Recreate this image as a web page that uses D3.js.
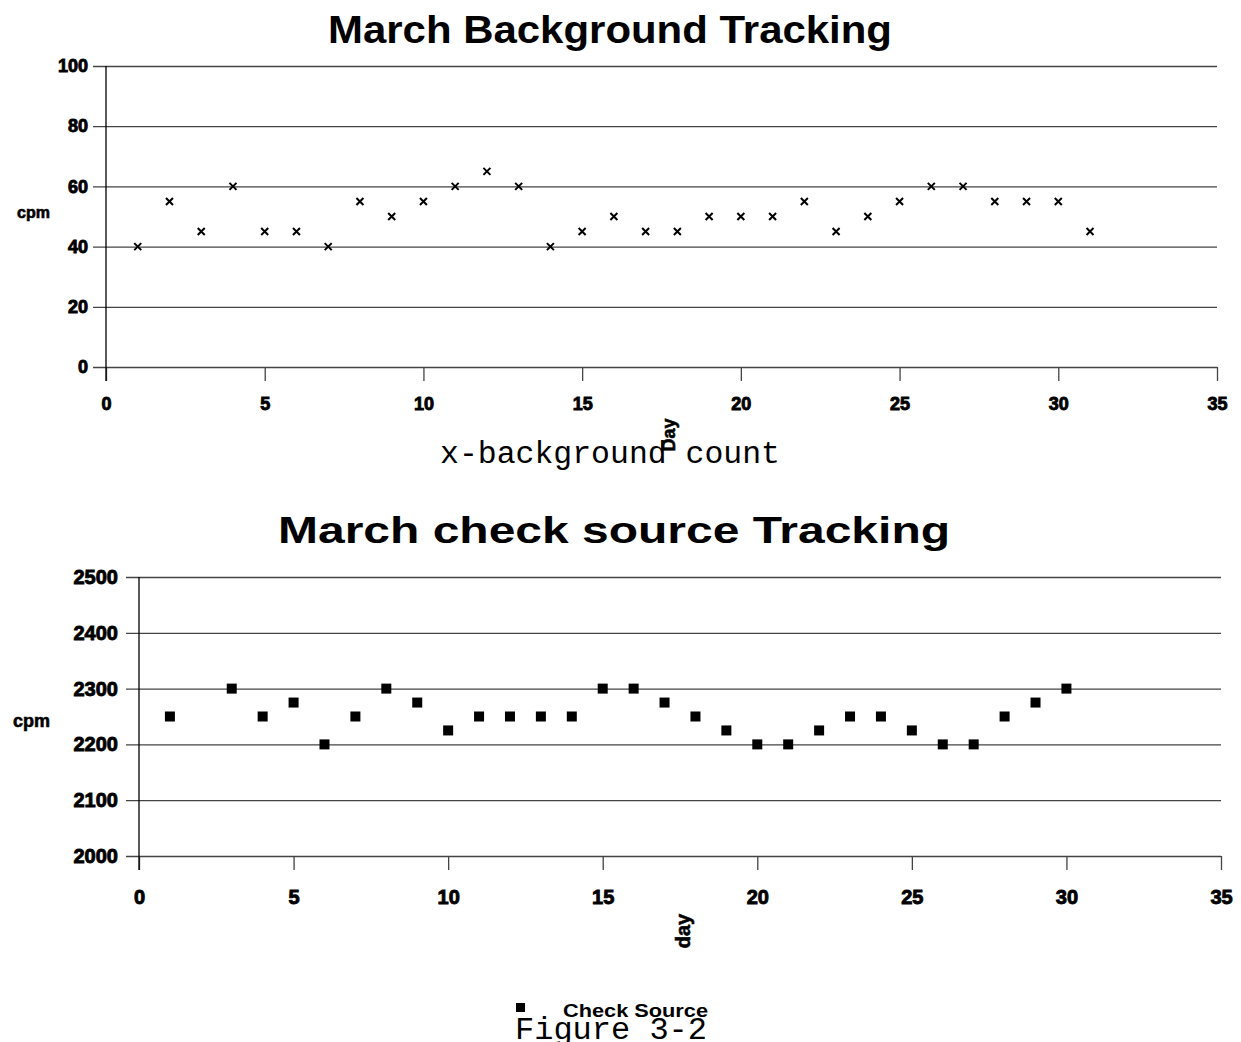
<!DOCTYPE html>
<html>
<head>
<meta charset="utf-8">
<script src="https://cdn.jsdelivr.net/npm/d3@7"></script>
<style>
body { margin: 0; background: #fff; }
text { font-family: "Liberation Sans", Arial, sans-serif; }
.mono { font-family: "Liberation Mono", "Courier New", monospace; }
</style>
</head>
<body>
<script>
// background count, cpm per day
var bgDays   = [1,2,3,4,5,6,7,8,9,10,11,12,13,14,15,16,17,18,19,20,21,22,23,24,25,26,27,28,29,30,31];
var bgCounts = [40,55,45,60,45,45,40,55,50,55,60,65,60,40,45,50,45,45,50,50,50,55,45,50,55,60,60,55,55,55,45];

// check source, cpm per day (no reading on day 2)
var csDays   = [1,3,4,5,6,7,8,9,10,11,12,13,14,15,16,17,18,19,20,21,22,23,24,25,26,27,28,29,30];
var csCounts = [2250,2300,2250,2275,2200,2250,2300,2275,2225,2250,2250,2250,2250,2300,2300,2275,2250,2225,2200,2200,2225,2250,2250,2225,2200,2200,2250,2275,2300];

var xTicks   = [0,5,10,15,20,25,30,35];
var bgYTicks = [0,20,40,60,80,100];
var csYTicks = [2000,2100,2200,2300,2400,2500];

var svg = d3.select("body").append("svg")
    .attr("width", 1241)
    .attr("height", 1042);

function drawPanel(o){
    var x = d3.scaleLinear().domain([0,35]).range([o.left, o.right]);
    var y = d3.scaleLinear().domain(o.yDomain).range([o.bottom, o.top]);

    // gridlines + y labels
    var ya = svg.append("g")
        .attr("transform", "translate(" + (o.left - 13) + ",0)")
        .call(d3.axisLeft(y).tickValues(o.yTicks).tickFormat(d3.format("d"))
            .tickSize(-(o.right - o.left + 13)).tickPadding(o.yPad));
    ya.select(".domain").remove();
    ya.selectAll("line").attr("stroke", "#444").attr("stroke-width", 1.3);
    ya.selectAll("text")
        .attr("font-size", o.yFont).attr("font-weight", "bold")
        .attr("fill", "#000").attr("stroke", "#000").attr("stroke-width", 0.9);

    // x ticks + labels
    var xa = svg.append("g")
        .attr("transform", "translate(0," + o.bottom + ")")
        .call(d3.axisBottom(x).tickValues(xTicks).tickSize(14).tickPadding(o.xPad));
    xa.select(".domain").remove();
    xa.selectAll("line").attr("stroke", "#444").attr("stroke-width", 1.3);
    xa.selectAll("text")
        .attr("font-size", o.xFont).attr("font-weight", "bold")
        .attr("fill", "#000").attr("stroke", "#000").attr("stroke-width", 0.9);

    // y axis line
    svg.append("line")
        .attr("x1", x(0)).attr("x2", x(0))
        .attr("y1", o.top).attr("y2", o.bottom + 14)
        .attr("stroke", "#000").attr("stroke-width", 1.3);

    // title
    svg.append("text")
        .attr("x", o.titleX).attr("y", o.titleY)
        .attr("text-anchor", "middle")
        .attr("font-size", o.titleFont).attr("font-weight", "bold")
        .attr("textLength", o.titleLen).attr("lengthAdjust", "spacingAndGlyphs")
        .text(o.title);

    // y label
    svg.append("text")
        .attr("x", o.cpmX).attr("y", o.cpmY)
        .attr("font-size", o.cpmFont).attr("font-weight", "bold")
        .attr("stroke", "#000").attr("stroke-width", 0.6)
        .text("cpm");

    // x label, rotated
    svg.append("text")
        .attr("transform", "translate(" + o.dayX + "," + o.dayY + ") rotate(-90)")
        .attr("text-anchor", "middle")
        .attr("font-size", o.dayFont).attr("font-weight", "bold")
        .attr("stroke", "#000").attr("stroke-width", 0.6)
        .text(o.dayText);

    var pts = o.days.map(function(d, i){ return {day: d, v: o.values[i]}; });
    var g = svg.append("g");
    if (o.marker == "x") {
        g.selectAll("path").data(pts).enter().append("path")
            .attr("transform", function(d){ return "translate(" + x(d.day) + "," + y(d.v) + ")"; })
            .attr("d", "M-3.5,-3.5L3.5,3.5M-3.5,3.5L3.5,-3.5")
            .attr("stroke", "#000").attr("stroke-width", 2);
    } else {
        g.selectAll("rect").data(pts).enter().append("rect")
            .attr("x", function(d){ return x(d.day) - 5; })
            .attr("y", function(d){ return y(d.v) - 5; })
            .attr("width", 10).attr("height", 10)
            .attr("fill", "#000");
    }
}

drawPanel({
    left: 106, right: 1217, top: 66, bottom: 367,
    yDomain: [0,100], yTicks: bgYTicks, yPad: 5, yFont: 18,
    xPad: 16, xFont: 18,
    title: "March Background Tracking", titleX: 610, titleY: 43, titleFont: 39, titleLen: 564,
    cpmX: 17, cpmY: 218, cpmFont: 16,
    dayX: 675, dayY: 435, dayFont: 18, dayText: "Day",
    days: bgDays, values: bgCounts, marker: "x"
});

drawPanel({
    left: 139, right: 1221, top: 577, bottom: 856,
    yDomain: [2000,2500], yTicks: csYTicks, yPad: 8, yFont: 20,
    xPad: 20, xFont: 20,
    title: "March check source Tracking", titleX: 614, titleY: 543, titleFont: 36, titleLen: 672,
    cpmX: 13, cpmY: 727, cpmFont: 18,
    dayX: 690, dayY: 931, dayFont: 20, dayText: "day",
    days: csDays, values: csCounts, marker: "sq"
});

svg.append("text").attr("class", "mono")
    .attr("x", 440).attr("y", 463)
    .attr("font-size", 31)
    .attr("textLength", 340).attr("lengthAdjust", "spacingAndGlyphs")
    .text("x-background count");

// legend
svg.append("rect")
    .attr("x", 516).attr("y", 1003).attr("width", 9).attr("height", 9)
    .attr("fill", "#000");
svg.append("text")
    .attr("x", 563).attr("y", 1017)
    .attr("font-size", 19).attr("font-weight", "bold")
    .attr("textLength", 145).attr("lengthAdjust", "spacingAndGlyphs")
    .text("Check Source");

svg.append("text").attr("class", "mono")
    .attr("x", 515).attr("y", 1039)
    .attr("font-size", 31)
    .attr("textLength", 192).attr("lengthAdjust", "spacingAndGlyphs")
    .text("Figure 3-2");
</script>
</body>
</html>
